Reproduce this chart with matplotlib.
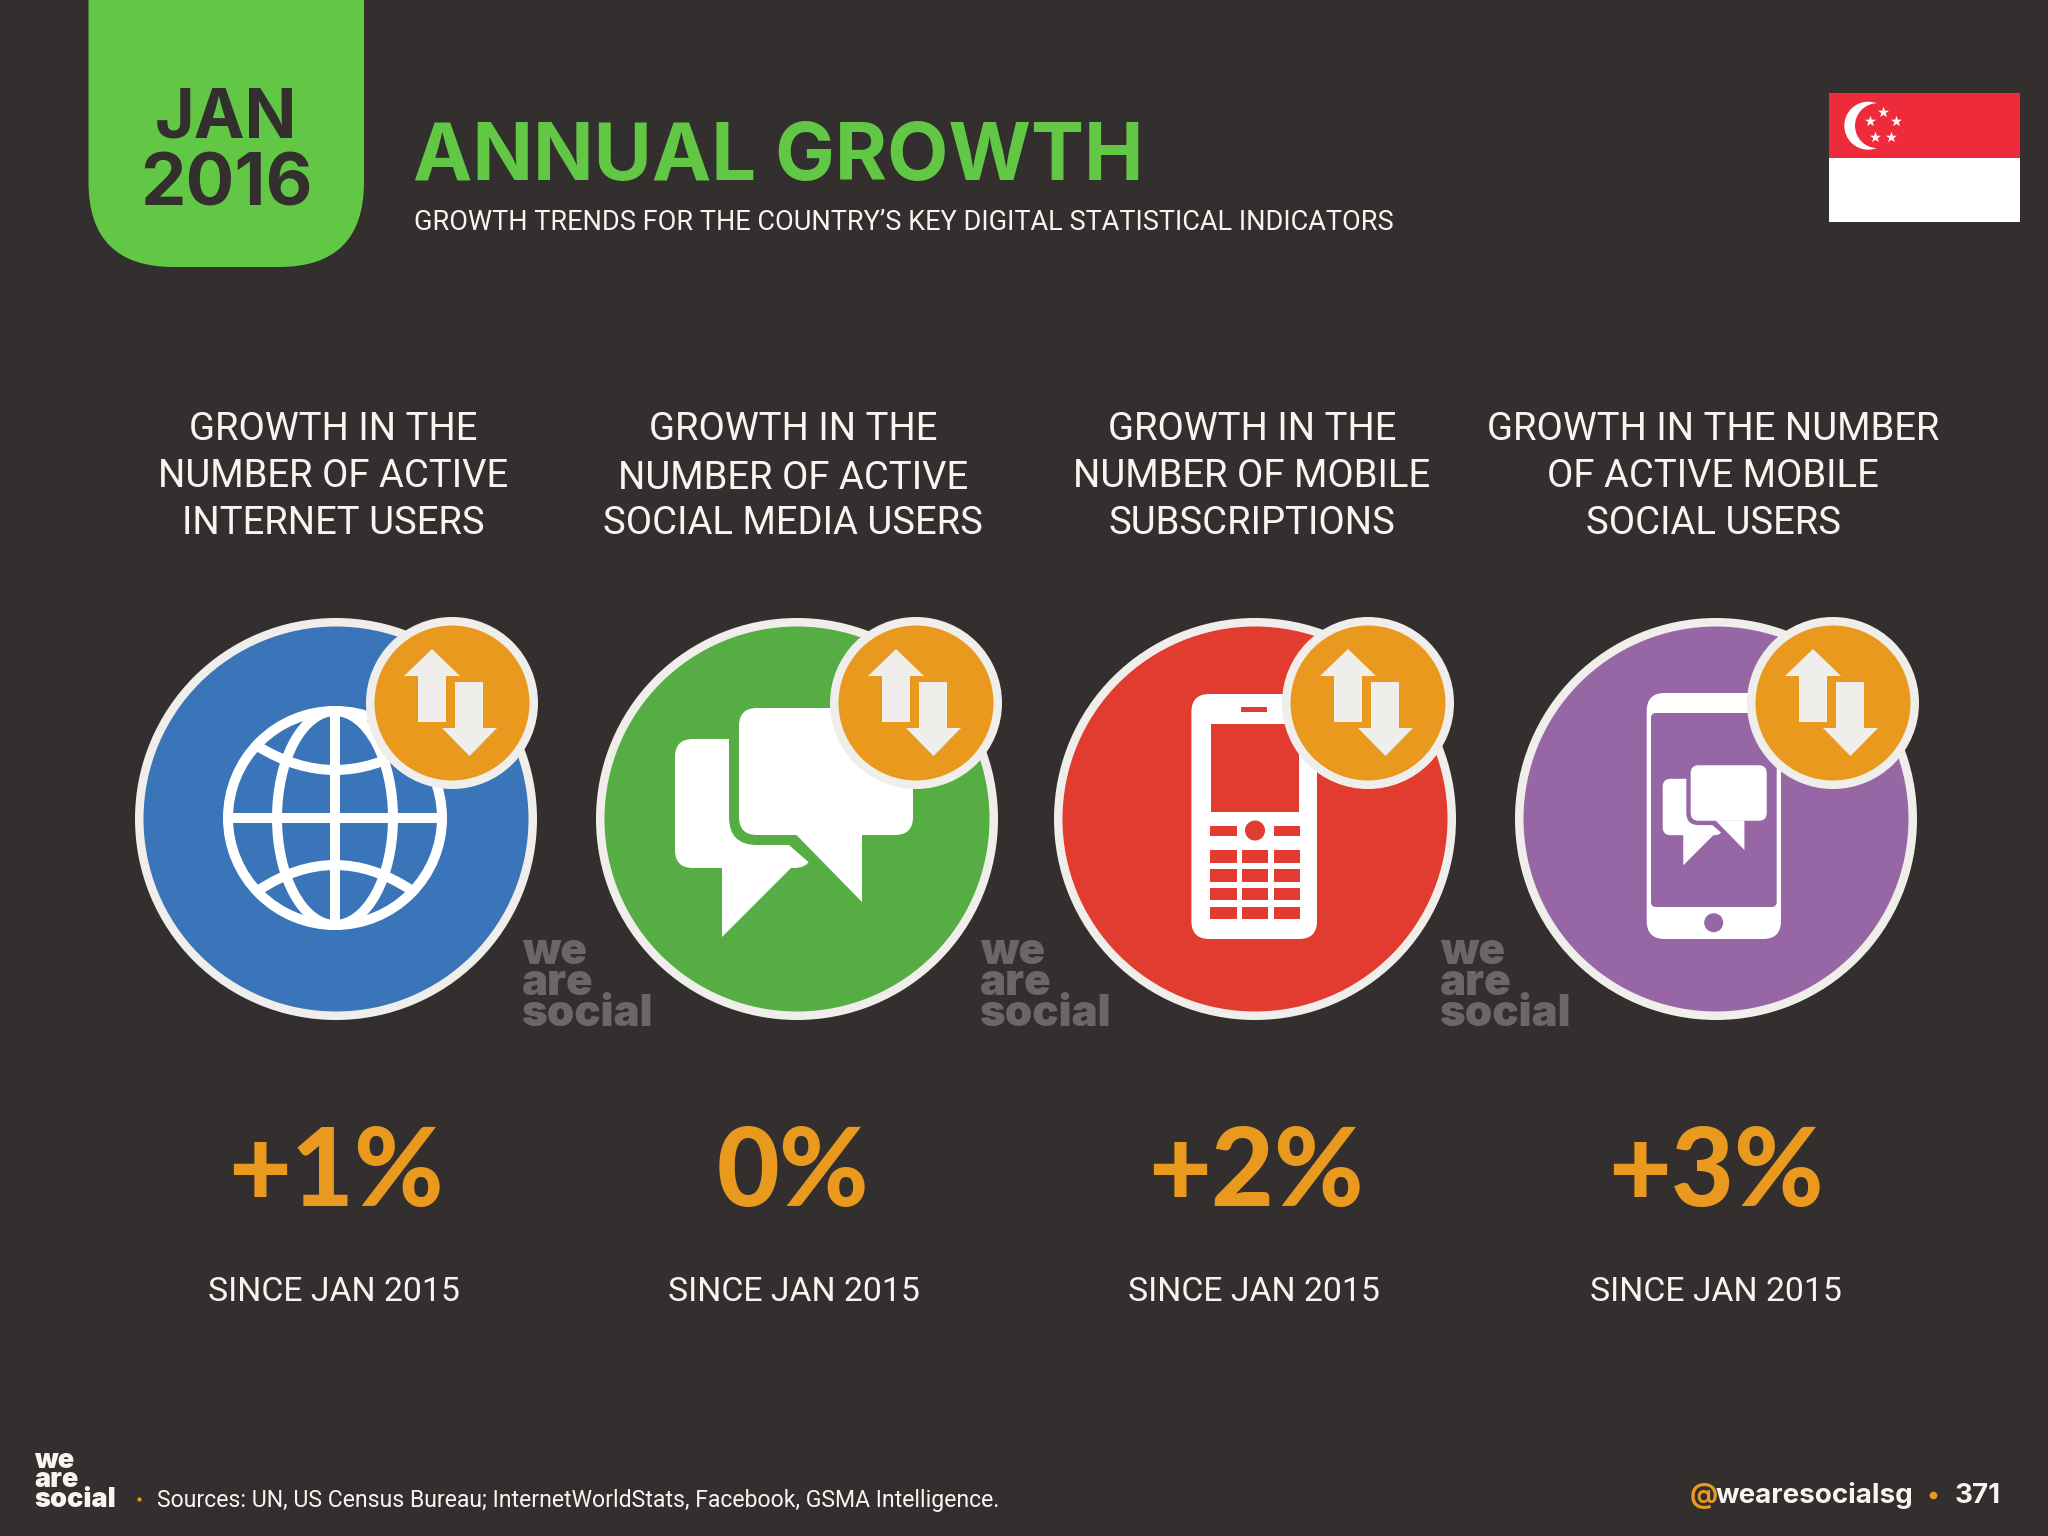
import matplotlib
matplotlib.use("Agg")
import matplotlib.pyplot as plt
from matplotlib.patches import Circle, Ellipse, FancyBboxPatch, PathPatch, Polygon, Rectangle
from matplotlib.path import Path

# content
categories = [
    ["GROWTH IN THE", "NUMBER OF ACTIVE", "INTERNET USERS"],
    ["GROWTH IN THE", "NUMBER OF ACTIVE", "SOCIAL MEDIA USERS"],
    ["GROWTH IN THE", "NUMBER OF MOBILE", "SUBSCRIPTIONS"],
    ["GROWTH IN THE NUMBER", "OF ACTIVE MOBILE", "SOCIAL USERS"],
]
values = ["+1%", "0%", "+2%", "+3%"]
since = ["SINCE JAN 2015"] * 4
sources = "Sources: UN, US Census Bureau; InternetWorldStats, Facebook, GSMA Intelligence."

# colours
BG = "#332F2E"
GREEN = "#62C744"
ORANGE = "#E99A1E"
RING = "#F0EEEB"
TEXT = "#F7F5F2"
WATERMARK = "#6B6767"
circle_colors = ["#3B75B9", "#56AD44", "#E23B30", "#9766A5"]

# layout, all in pixels of the 2048x1536 picture
circle_x = [336, 797, 1255, 1716]
circle_y = 819
badge_x = [452, 916, 1368, 1833]
badge_y = 703
label_x = [333, 793, 1252, 1713]
label_y = [[440, 487, 534], [440, 489, 534], [440, 487, 534], [440, 487, 534]]
value_x = [336, 793, 1256, 1716]
since_x = [334, 794, 1254, 1716]
watermark_x = [522, 980, 1440]

FONT_BOLD = dict(family="Inter", weight="bold")
FONT_LIGHT = dict(family="Roboto", weight="normal")
FONT_VALUE = dict(family="Lato", weight="black")
FONT_LOGO = dict(family="Inter", weight="black")


def px(width):
    return width * 0.72


def ring_circle(ax, x, y, r, color, ring=8.5, zorder=2):
    ax.add_patch(Circle((x, y), r - ring / 2, facecolor=color, edgecolor=RING,
                        linewidth=px(ring), zorder=zorder))


def round_rect(ax, x0, y0, x1, y1, r, color, zorder=3):
    ax.add_patch(FancyBboxPatch((x0 + r, y0 + r), x1 - x0 - 2 * r, y1 - y0 - 2 * r,
                                boxstyle="round,pad=%f,rounding_size=%f" % (r, r),
                                facecolor=color, edgecolor="none", zorder=zorder))


def draw_arrows(ax, x, y):
    up = [(-20, -54), (8, -27), (-6, -27), (-6, 19), (-34, 19), (-34, -27), (-48, -27)]
    down = [(17.5, 53), (45, 25), (31, 25), (31, -21), (3, -21), (3, 25), (-10, 25)]
    for shape in (up, down):
        ax.add_patch(Polygon([(x + a, y + b) for a, b in shape], closed=True,
                             facecolor=RING, edgecolor="none", zorder=8))


def draw_globe(ax, x, y):
    lw = px(10)
    kw = dict(facecolor="none", edgecolor="white", linewidth=lw, zorder=3)
    ax.add_patch(Circle((x, y), 107, **kw))
    ax.add_patch(Ellipse((x, y), 116, 214, **kw))
    ax.plot([x - 107, x + 107], [y, y], color="white", lw=lw, zorder=3, solid_capstyle="butt")
    ax.plot([x, x], [y - 107, y + 107], color="white", lw=lw, zorder=3, solid_capstyle="butt")
    for end, ctrl in ((-71, -25), (72, 22)):
        verts = [(x - 76, y + end), (x, y + ctrl), (x + 76, y + end)]
        ax.add_patch(PathPatch(Path(verts, [Path.MOVETO, Path.CURVE3, Path.CURVE3]), **kw))


def draw_chat(ax, x, y, k, bg):
    # x, y is the middle of the front bubble
    def pt(a, b):
        return (x + a * k, y + b * k)

    # back bubble
    round_rect(ax, *pt(-151, -32.5), *pt(-14, 96.5), 18 * k, "white", zorder=4)
    ax.add_patch(Polygon([pt(-104, 96), pt(-104, 165.5), pt(-35, 96.5), pt(-14, 96.5)],
                         facecolor="white", edgecolor="none", zorder=4))
    # gap around the front bubble
    gap = 10 * k
    round_rect(ax, *pt(-87 - 10, -63.5 - 10), *pt(87 + 10, 63.5 + 10), 28 * k, bg, zorder=5)
    ax.add_patch(Polygon([pt(-41, 63.5), pt(36, 130.5), pt(46, 130.5), pt(46, 63.5)],
                         facecolor=bg, edgecolor=bg, linewidth=px(gap), zorder=5))
    # front bubble
    round_rect(ax, *pt(-87, -63.5), *pt(87, 63.5), 18 * k, "white", zorder=6)
    ax.add_patch(Polygon([pt(-30, 63), pt(36, 130.5), pt(36, 63)],
                         facecolor="white", edgecolor="none", zorder=6))


def draw_feature_phone(ax, color):
    round_rect(ax, 1191.4, 694, 1317, 939, 18, "white")
    ax.add_patch(Rectangle((1240.7, 706.7), 26.3, 5.6, facecolor=color, zorder=4))
    ax.add_patch(Rectangle((1211, 724), 88.3, 88.3, facecolor=color, zorder=4))
    for left in (1210.4, 1273.6):
        ax.add_patch(Rectangle((left, 825.7), 26.4, 10, facecolor=color, zorder=4))
    ax.add_patch(Circle((1255, 830.5), 10, facecolor=color, zorder=4))
    for left in (1210.4, 1242, 1273.6):
        for top in (850, 869, 887.7, 906.7):
            ax.add_patch(Rectangle((left, top), 26.4, 12.7, facecolor=color, zorder=4))


def draw_smartphone(ax, color):
    round_rect(ax, 1646.7, 693, 1781, 939, 18, "white")
    round_rect(ax, 1651, 713, 1776.7, 907, 5, color, zorder=3.5)
    ax.add_patch(Circle((1713.7, 922.7), 9.5, facecolor=color, zorder=4))
    draw_chat(ax, 1728.7, 793, 0.437, color)


def logo(ax, x, baseline, size, color):
    ax.text(x, baseline, "we\nare\nsocial", color=color, fontsize=size, va="baseline", ha="left",
            linespacing=0.68, **FONT_LOGO)


def draw_flag(ax):
    ax.add_patch(Rectangle((1829, 93.3), 191, 64.4, facecolor="#EE2B3B", zorder=2))
    ax.add_patch(Rectangle((1829, 157.7), 191, 64.6, facecolor="white", zorder=2))
    ax.add_patch(Circle((1868.3, 125.7), 24, facecolor="white", zorder=3))
    ax.add_patch(Circle((1877.5, 125.7), 22.5, facecolor="#EE2B3B", zorder=3))
    star_x = [1883, 1895.7, 1891, 1875, 1870]
    star_y = [111.7, 121.3, 136.7, 136.7, 121.3]
    ax.scatter(star_x, star_y, marker="*", s=70, color="white", linewidths=0, zorder=4)


fig = plt.figure(figsize=(20.48, 15.36), dpi=100, facecolor=BG)
ax = fig.add_axes([0, 0, 1, 1])
ax.set_xlim(0, 2048)
ax.set_ylim(1536, 0)
ax.axis("off")

# header
round_rect(ax, 88.5, -120, 364, 267, 85, GREEN, zorder=2)
ax.text(226, 137, "JAN", color=BG, fontsize=49, ha="center", va="baseline", **FONT_BOLD)
ax.text(226, 205, "2016", color=BG, fontsize=52, ha="center", va="baseline", **FONT_BOLD)
ax.text(413, 180, "ANNUAL GROWTH", color=GREEN, fontsize=57.3, ha="left", va="baseline", **FONT_BOLD)
ax.text(414, 230, "GROWTH TRENDS FOR THE COUNTRY\u2019S KEY DIGITAL STATISTICAL INDICATORS",
        color=TEXT, fontsize=19.5, ha="left", va="baseline", **FONT_LIGHT)
draw_flag(ax)

# columns
for i, lines in enumerate(categories):
    for line, y in zip(lines, label_y[i]):
        ax.text(label_x[i], y, line, color=TEXT, fontsize=27.5, ha="center", va="baseline", **FONT_LIGHT)
    ring_circle(ax, circle_x[i], circle_y, 201, circle_colors[i])
    ring_circle(ax, badge_x[i], badge_y, 86, ORANGE, zorder=7)
    draw_arrows(ax, badge_x[i], badge_y)
    ax.text(value_x[i], 1206, values[i], color=ORANGE, fontsize=78, ha="center", va="baseline", **FONT_VALUE)
    ax.text(since_x[i], 1301, since[i], color=TEXT, fontsize=24.3, ha="center", va="baseline", **FONT_LIGHT)

draw_globe(ax, 335, 818)
draw_chat(ax, 826, 771.5, 1, circle_colors[1])
draw_feature_phone(ax, circle_colors[2])
draw_smartphone(ax, circle_colors[3])

for x in watermark_x:
    logo(ax, x, 1026, 31.5, WATERMARK)

# footer
logo(ax, 34, 1507, 19.5, TEXT)
ax.scatter([139], [1499], s=9, color=ORANGE, linewidths=0, zorder=4)
ax.text(157, 1507, sources, color=TEXT, fontsize=16.6, ha="left", va="baseline", **FONT_LIGHT)
ax.text(1690, 1503, "@", color=ORANGE, fontsize=20, ha="left", va="baseline", **FONT_BOLD)
ax.text(1716, 1503, "wearesocialsg", color=TEXT, fontsize=20, ha="left", va="baseline", **FONT_BOLD)
ax.scatter([1933], [1495], s=30, color=ORANGE, linewidths=0, zorder=4)
ax.text(1955, 1503, "371", color=TEXT, fontsize=20, ha="left", va="baseline", **FONT_BOLD)

fig.savefig("out.png", dpi=100, facecolor=BG)
